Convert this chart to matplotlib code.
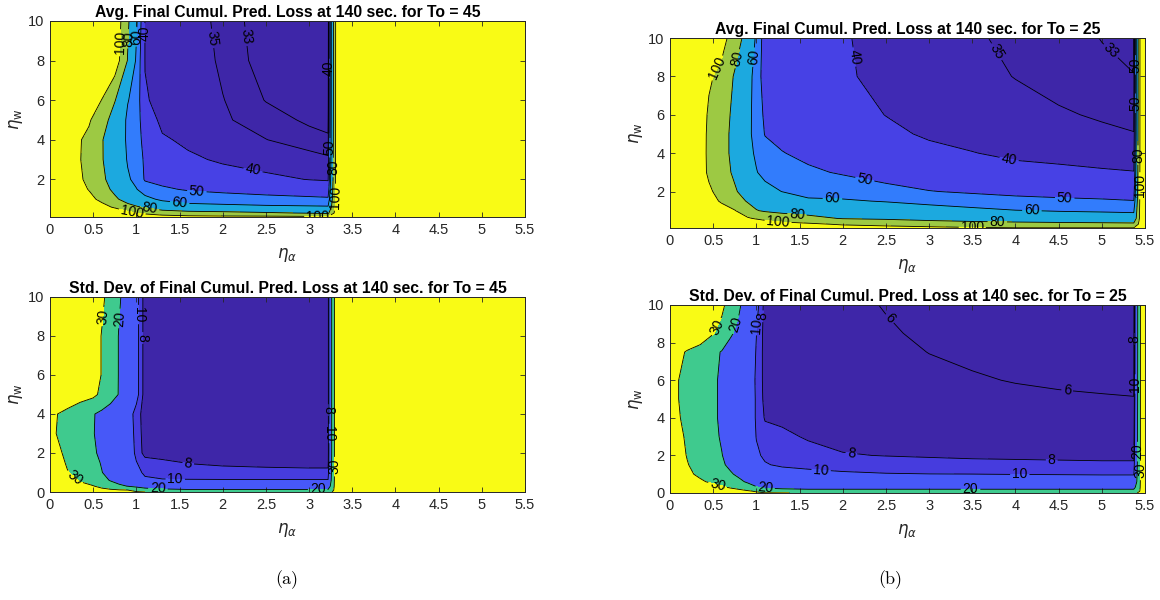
import matplotlib
matplotlib.use("Agg")
import matplotlib.pyplot as plt
import numpy as np

# ---------------- data ----------------
# (a) top: average loss, To = 45
a_avg_x = [0, 0.3, 0.45, 0.6, 0.75, 0.9, 1.0, 1.1, 1.3, 1.6, 2.0, 2.5, 3.0, 3.22, 3.32, 3.4, 5.5]
a_avg_y = [0.1, 0.3, 0.6, 1.0, 1.5, 2.0, 3.0, 4.0, 5.0, 6.0, 8.0, 10.0]
a_avg_z = [
    [150, 150, 150, 145, 135, 125, 118, 113, 108, 106, 105, 105, 104, 104, 110, 200, 200],
    [150, 150, 140, 128, 118, 106, 100.5, 96, 91, 87, 85, 82, 79, 77, 110, 200, 200],
    [150, 140, 122, 108, 97, 86, 82, 78, 68, 63.5, 63, 62, 61.5, 61.2, 110, 200, 200],
    [150, 125, 107, 94, 83, 73, 67, 63, 58, 56, 54.5, 53, 51.8, 51.3, 110, 200, 200],
    [150, 110, 99, 87, 76, 66, 60.5, 55, 51.5, 49, 47.5, 46, 45, 44.5, 110, 200, 200],
    [150, 106, 95, 83, 73, 61.5, 57, 49, 47, 45, 43.5, 41.5, 39.8, 39.3, 110, 200, 200],
    [150, 103, 95, 81, 71, 59, 55, 48.5, 44.5, 41.3, 39, 37.2, 35.9, 35.4, 110, 200, 200],
    [150, 103, 96, 81, 70, 58, 54, 47, 41, 38.5, 36.8, 35.05, 33.9, 33.4, 110, 200, 200],
    [150, 130, 102, 89, 71, 58, 54, 45, 38, 37.3, 35.3, 34, 32.6, 32.2, 110, 200, 200],
    [150, 150, 125, 99, 81, 60.5, 56, 40.5, 38.5, 37, 35.1, 32.9, 31.8, 31.5, 110, 200, 200],
    [150, 150, 150, 140, 112, 79, 58, 39.8, 38.6, 36.8, 34.5, 32.0, 31.2, 31, 110, 200, 200],
    [150, 150, 150, 140, 115, 83, 62, 39.8, 38.5, 36.5, 34.2, 31.8, 30.8, 30.5, 110, 200, 200],
]

# (b) top: average loss, To = 25
b_avg_x = [0, 0.3, 0.45, 0.6, 0.75, 0.9, 1.0, 1.1, 1.3, 1.6, 2.0, 2.5, 3.0, 3.5, 4.0, 4.5, 5.0, 5.37, 5.45, 5.5]
b_avg_y = [0.1, 0.3, 0.6, 1.0, 1.5, 2.0, 3.0, 4.0, 5.0, 6.0, 8.0, 10.0]
b_avg_z = [
    [150, 150, 150, 150, 145, 135, 130, 127, 122, 115, 108, 106, 104, 102, 101, 101, 101, 101, 108, 200],
    [150, 150, 145, 140, 130, 120, 115, 110, 106, 103, 98, 95, 92, 89, 87, 86, 85, 84, 108, 200],
    [150, 145, 135, 123, 112, 102, 98, 95, 90, 85, 79, 77, 73, 70, 68, 66, 65, 64.5, 108, 200],
    [150, 135, 122, 110, 101, 88, 81, 78, 75, 73, 68, 66, 64, 63, 60.5, 59.5, 59, 58.5, 108, 200],
    [150, 122, 109, 97, 88, 78.5, 73, 69, 68, 61.5, 61, 59.5, 57.5, 54, 52, 51.5, 51, 50.3, 108, 200],
    [150, 115, 103, 93, 82, 72, 67, 63.5, 59.8, 57, 56.5, 53, 50.3, 49, 48.3, 47.4, 46.6, 46, 108, 200],
    [150, 113, 97, 87, 77, 65, 60.5, 57, 54, 51.7, 49, 46, 44.5, 43.5, 42, 41.2, 40.6, 40.2, 108, 200],
    [150, 115, 96, 86, 75, 63, 58.5, 54, 50.4, 47.5, 45, 43, 41.4, 40.2, 38.8, 38.4, 37.7, 37.2, 108, 200],
    [150, 116, 96, 86, 75, 62.5, 56.5, 49.5, 47, 45.2, 43.3, 41.2, 39.3, 38, 37, 36.2, 35.5, 35.1, 108, 200],
    [150, 118, 97, 87, 76, 63, 56, 48, 45.5, 44, 42.2, 39.9, 38.5, 37.2, 36.2, 35.3, 34.7, 34.3, 108, 200],
    [150, 135, 103, 94, 78, 64, 56, 44.5, 43.5, 42, 40.6, 38.8, 37.4, 36, 34.9, 34.1, 33.4, 33.05, 108, 200],
    [150, 150, 135, 107, 90, 72, 58, 45, 44, 42.5, 40.4, 38.5, 37, 35.3, 34.5, 33.7, 32.95, 32.5, 108, 200],
]

# (a) bottom: std. dev., To = 45
a_std_x = [0, 0.05, 0.2, 0.35, 0.5, 0.6, 0.7, 0.8, 0.9, 1.0, 1.1, 1.3, 1.6, 2.0, 2.5, 3.0, 3.22, 3.3, 3.4, 5.5]
a_std_y = [0, 0.1, 0.3, 0.6, 1.0, 1.5, 2.0, 3.0, 4.0, 5.0, 6.0, 8.0, 10.0]
a_std_z = [
    [50, 50, 46, 42, 38, 36, 34, 32, 31, 30.5, 30, 28, 27, 27, 27, 27, 27, 32, 60, 60],
    [48, 46, 42, 38, 35, 33, 31.5, 30.5, 30, 28, 24, 22, 21, 21, 21, 21, 21, 32, 60, 60],
    [45, 43, 38, 33, 30.5, 27, 24, 21.5, 19.8, 17.5, 16, 15, 14.5, 14.5, 14.5, 14.5, 14.5, 32, 60, 60],
    [42, 40, 35, 29, 25, 22.5, 19.5, 17, 14.5, 12, 10.3, 10.15, 10.15, 10.15, 10.15, 10.15, 10.15, 32, 60, 60],
    [38, 36, 30.5, 27, 23, 20.2, 17.5, 15.5, 13, 10.5, 9.7, 9.3, 9, 8.8, 8.7, 8.6, 8.6, 32, 60, 60],
    [36, 35, 29, 26, 22, 19.5, 17, 15, 12.5, 10.1, 9, 8.5, 7.9, 7.6, 7.4, 7.3, 7.3, 32, 60, 60],
    [34, 33, 28, 25, 21, 18.5, 16, 14, 11.7, 9.5, 7.2, 7, 7, 7, 7, 7, 7, 32, 60, 60],
    [32, 30.5, 27, 24, 20.3, 18, 15.5, 13.5, 11.5, 9.3, 7, 7, 7, 7, 7, 7, 7, 32, 60, 60],
    [33, 31, 27, 24, 20.5, 18, 15.5, 13.5, 11.5, 9, 7, 7, 7, 7, 7, 7, 7, 32, 60, 60],
    [40, 40, 38, 34, 32, 28, 24, 19.5, 15.5, 11, 7, 7, 7, 7, 7, 7, 7, 32, 60, 60],
    [40, 40, 40, 40, 35, 29.5, 25, 19.5, 15.5, 11, 7, 7, 7, 7, 7, 7, 7, 32, 60, 60],
    [40, 40, 40, 40, 35, 29.5, 25, 19.5, 15.5, 11, 7, 7, 7, 7, 7, 7, 7, 32, 60, 60],
    [40, 40, 40, 40, 37, 32, 26, 21, 16, 11, 7, 7, 7, 7, 7, 7, 7, 32, 60, 60],
]

# (b) bottom: std. dev., To = 25
b_std_x = [0, 0.08, 0.2, 0.35, 0.5, 0.6, 0.7, 0.8, 0.9, 1.0, 1.1, 1.3, 1.6, 2.0, 2.5, 3.0, 3.5, 4.0, 4.5, 5.0, 5.37, 5.45, 5.5]
b_std_y = [0, 0.1, 0.3, 0.6, 1.0, 1.5, 2.0, 3.0, 4.0, 5.0, 6.0, 7.5, 8.5, 10.0]
b_std_z = [
    [50, 50, 48, 45, 42, 40, 38, 36, 33, 31.5, 30.5, 30.2, 29.5, 29, 29, 29, 29, 29, 29, 29, 29, 31, 60],
    [48, 47, 45, 42, 39, 36.5, 34.5, 33, 31, 29, 26, 24, 23, 23, 23, 23, 23, 23, 23, 23, 23, 31, 60],
    [45, 44, 41, 37, 34, 31.5, 29, 26.5, 23.5, 20.5, 18.5, 17.5, 17, 17, 17, 17, 17, 17, 17, 17, 17, 31, 60],
    [42, 40, 36, 31.5, 28, 26, 24, 21.5, 19, 17, 15, 13.5, 12.5, 12, 11.8, 11.6, 11.5, 11.5, 11.5, 11.4, 11.4, 31, 60],
    [39, 37, 32, 28, 25, 23, 20.8, 18.5, 16, 13.5, 12, 11.3, 10.8, 10.4, 10.15, 10.05, 10.02, 9.95, 9.9, 9.85, 9.85, 31, 60],
    [37, 35, 30.5, 26, 22.5, 21, 18.5, 16, 13.5, 11, 10.2, 9.6, 9.3, 9.0, 8.7, 8.55, 8.45, 8.4, 8.35, 8.3, 8.3, 31, 60],
    [36, 34, 29.5, 25.5, 22, 20.2, 17.5, 15.2, 12.8, 10.4, 9.6, 9.2, 8.7, 8.1, 7.95, 7.85, 7.75, 7.7, 7.65, 7.6, 7.6, 31, 60],
    [34, 32, 29, 25, 21.5, 19.3, 16.8, 14.7, 12.2, 9.9, 8.9, 8.4, 7.8, 7.5, 7.3, 7.2, 7.1, 7.0, 7.0, 6.95, 6.9, 31, 60],
    [33, 31, 28, 24.5, 21, 19, 16.5, 14.5, 12, 9.7, 7.8, 7.6, 7.4, 7.2, 7.0, 6.9, 6.8, 6.7, 6.6, 6.55, 6.5, 31, 60],
    [32, 30.5, 27.5, 24.5, 21, 19, 16.5, 14.5, 12, 9.7, 7.4, 7.3, 7.1, 6.9, 6.7, 6.5, 6.35, 6.25, 6.15, 6.1, 6.05, 31, 60],
    [32, 30.5, 27.5, 24.5, 21, 19, 16.5, 14.5, 12, 9.6, 7.3, 7.2, 7.0, 6.8, 6.5, 6.3, 6.1, 5.95, 5.85, 5.75, 5.7, 31, 60],
    [36, 33, 29, 25.5, 22, 19.5, 17, 15, 12.5, 9.8, 7.2, 7.1, 6.9, 6.6, 6.3, 5.98, 5.8, 5.7, 5.6, 5.55, 5.5, 31, 60],
    [40, 40, 40, 37, 30.5, 27, 21, 18, 14.5, 10.05, 7.2, 7, 6.8, 6.5, 6.1, 5.85, 5.7, 5.6, 5.5, 5.4, 5.4, 31, 60],
    [40, 40, 40, 40, 37, 32, 26, 21, 16, 11, 7.2, 6.9, 6.6, 6.25, 5.95, 5.7, 5.5, 5.4, 5.3, 5.2, 5.2, 31, 60],
]

avg_levels = [33, 35, 40, 50, 60, 80, 100]
std_levels = [6, 8, 10, 20, 30]

titles = [
    "Avg. Final Cumul. Pred. Loss at 140 sec. for To = 45",
    "Avg. Final Cumul. Pred. Loss at 140 sec. for To = 25",
    "Std. Dev. of Final Cumul. Pred. Loss at 140 sec. for To = 45",
    "Std. Dev. of Final Cumul. Pred. Loss at 140 sec. for To = 25",
]
x_ticks = [0, 0.5, 1, 1.5, 2, 2.5, 3, 3.5, 4, 4.5, 5, 5.5]
x_ticklabels = ["0", "0.5", "1", "1.5", "2", "2.5", "3", "3.5", "4", "4.5", "5", "5.5"]

# ---------------- style ----------------
PARULA = [
    (0.2422, 0.1504, 0.6603), (0.2504, 0.1650, 0.7076), (0.2578, 0.1818, 0.7511), (0.2647, 0.1978, 0.7952),
    (0.2706, 0.2147, 0.8364), (0.2751, 0.2342, 0.8710), (0.2783, 0.2559, 0.8991), (0.2803, 0.2782, 0.9221),
    (0.2813, 0.3006, 0.9414), (0.2810, 0.3228, 0.9579), (0.2795, 0.3447, 0.9717), (0.2760, 0.3667, 0.9829),
    (0.2699, 0.3892, 0.9906), (0.2602, 0.4123, 0.9952), (0.2440, 0.4358, 0.9988), (0.2206, 0.4603, 0.9973),
    (0.1963, 0.4847, 0.9892), (0.1834, 0.5074, 0.9798), (0.1786, 0.5289, 0.9682), (0.1764, 0.5499, 0.9520),
    (0.1687, 0.5703, 0.9359), (0.1540, 0.5902, 0.9218), (0.1460, 0.6091, 0.9079), (0.1380, 0.6276, 0.8973),
    (0.1248, 0.6459, 0.8883), (0.1113, 0.6635, 0.8763), (0.0952, 0.6798, 0.8598), (0.0689, 0.6948, 0.8394),
    (0.0297, 0.7082, 0.8163), (0.0036, 0.7203, 0.7917), (0.0067, 0.7312, 0.7660), (0.0433, 0.7411, 0.7394),
    (0.0964, 0.7500, 0.7120), (0.1408, 0.7584, 0.6842), (0.1717, 0.7670, 0.6554), (0.1938, 0.7758, 0.6251),
    (0.2161, 0.7843, 0.5923), (0.2470, 0.7918, 0.5567), (0.2906, 0.7973, 0.5188), (0.3406, 0.8008, 0.4789),
    (0.3909, 0.8029, 0.4354), (0.4456, 0.8024, 0.3909), (0.5044, 0.7993, 0.3480), (0.5616, 0.7942, 0.3045),
    (0.6174, 0.7876, 0.2612), (0.6720, 0.7793, 0.2227), (0.7242, 0.7698, 0.1910), (0.7738, 0.7598, 0.1646),
    (0.8203, 0.7498, 0.1535), (0.8634, 0.7406, 0.1596), (0.9035, 0.7330, 0.1774), (0.9393, 0.7288, 0.2100),
    (0.9728, 0.7298, 0.2394), (0.9956, 0.7434, 0.2371), (0.9970, 0.7659, 0.2199), (0.9952, 0.7893, 0.2028),
    (0.9892, 0.8136, 0.1885), (0.9786, 0.8386, 0.1766), (0.9676, 0.8639, 0.1643), (0.9610, 0.8890, 0.1537),
    (0.9597, 0.9135, 0.1423), (0.9628, 0.9373, 0.1265), (0.9691, 0.9606, 0.1064), (0.9769, 0.9839, 0.0805),
]


def band_colors(levels):
    lo, hi = levels[0], levels[-1]
    cols = [PARULA[0]]
    for L in levels:
        idx = min(int((L - lo) / (hi - lo) * 64), 63)
        cols.append(PARULA[idx])
    return cols


# where the contour labels sit (placement only)
label_spots = [
    [(0.82, 8.9), (0.9, 9.1), (0.99, 9.2), (1.08, 9.4), (1.84, 9.1), (2.22, 9.2),
     (2.34, 2.25), (1.7, 1.38), (1.5, 0.75), (1.15, 0.42), (0.95, 0.32), (3.1, 0.12),
     (3.235, 7.6), (3.24, 3.6), (3.28, 2.6), (3.29, 1.1)],
    [(0.52, 8.5), (0.8, 8.9), (0.97, 9.0), (2.12, 9.0), (3.75, 9.2), (5.1, 9.3),
     (3.92, 3.55), (2.25, 2.5), (4.57, 1.6), (1.88, 1.55), (4.19, 0.98), (1.47, 0.75),
     (3.79, 0.38), (1.25, 0.38), (3.5, 0.14),
     (5.385, 8.6), (5.39, 6.6), (5.42, 3.9), (5.445, 2.3)],
    [(0.6, 9.0), (0.8, 8.9), (1.02, 9.1), (1.07, 7.9), (1.6, 1.42), (1.45, 0.63),
     (0.25, 0.55), (1.25, 0.2), (3.1, 0.12), (3.295, 1.3), (3.222, 4.2), (3.232, 3.0)],
    [(0.56, 8.8), (0.8, 8.9), (1.0, 8.9), (1.07, 9.4), (2.55, 9.3), (4.6, 5.5),
     (2.1, 2.1), (4.42, 1.75), (1.75, 1.22), (4.05, 0.98), (0.55, 0.4), (1.1, 0.2),
     (3.48, 0.2), (5.375, 8.2), (5.385, 5.8), (5.42, 2.2), (5.44, 1.2)],
]

AX_COLOR = (0.15, 0.15, 0.15)
plt.rcParams["font.family"] = ["Liberation Sans", "DejaVu Sans"]
plt.rcParams["mathtext.fontset"] = "dejavusans"

fig = plt.figure(figsize=(11.6, 6.0), dpi=100)
fig.patch.set_facecolor("white")

positions = [
    [50 / 1160, 1 - 217 / 600, 475 / 1160, 196 / 600],
    [670 / 1160, 1 - 228 / 600, 475 / 1160, 190 / 600],
    [50 / 1160, 1 - 492 / 600, 475 / 1160, 195 / 600],
    [670 / 1160, 1 - 493 / 600, 475 / 1160, 188 / 600],
]
datasets = [
    (a_avg_x, a_avg_y, a_avg_z, avg_levels, (0.1, 10), [2, 4, 6, 8, 10]),
    (b_avg_x, b_avg_y, b_avg_z, avg_levels, (0.1, 10), [2, 4, 6, 8, 10]),
    (a_std_x, a_std_y, a_std_z, std_levels, (0, 10), [0, 2, 4, 6, 8, 10]),
    (b_std_x, b_std_y, b_std_z, std_levels, (0, 10), [0, 2, 4, 6, 8, 10]),
]

for pos, (xs, ys, zs, levels, ylim, yt), title, spots in zip(positions, datasets, titles, label_spots):
    ax = fig.add_axes(pos)
    X = np.array(xs)
    Y = np.array(ys)
    Z = np.array(zs, dtype=float)
    bounds = [min(Z.min(), levels[0]) - 1.0] + levels + [max(Z.max(), levels[-1]) + 1.0]
    ax.contourf(X, Y, Z, levels=bounds, colors=band_colors(levels))
    cs = ax.contour(X, Y, Z, levels=levels, colors="k", linewidths=0.6)
    ax.set_xlim(0, 5.5)
    ax.set_ylim(*ylim)
    ax.clabel(cs, fmt="%d", fontsize=10, inline=True, inline_spacing=2, manual=spots)
    ax.set_xticks(x_ticks)
    ax.set_xticklabels(x_ticklabels)
    ax.set_yticks(yt)
    ax.set_yticklabels([str(v) for v in yt])
    ax.tick_params(direction="in", length=3.5, width=0.6, top=True, right=True,
                   labelsize=10.5, colors=AX_COLOR, labelcolor=AX_COLOR, pad=4)
    for sp in ax.spines.values():
        sp.set_color(AX_COLOR)
        sp.set_linewidth(0.7)
    ax.set_title(title, fontsize=11.3, fontweight="bold", color="black", pad=3)
    ax.set_xlabel(r"$\eta_\alpha$", fontsize=12, color=AX_COLOR, labelpad=7)
    ax.set_ylabel(r"$\eta_\mathrm{w}$", fontsize=12, color=AX_COLOR, labelpad=2)

fig.text(287 / 1160, 1 - 580 / 600, "(a)", ha="center", va="center", fontsize=13, family="cmr10")
fig.text(890 / 1160, 1 - 580 / 600, "(b)", ha="center", va="center", fontsize=13, family="cmr10")

fig.savefig("out.png", dpi=100, facecolor="white")
